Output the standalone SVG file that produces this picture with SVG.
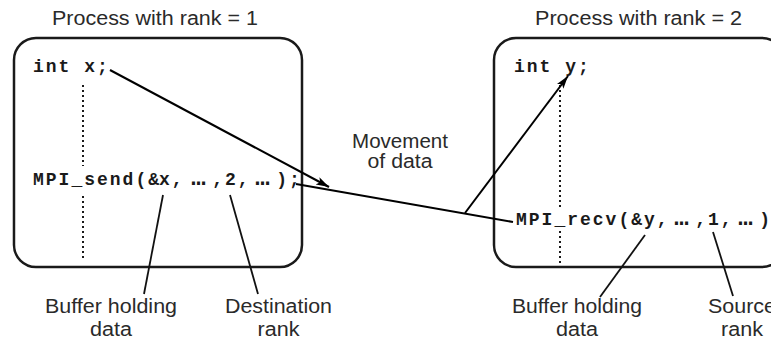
<svg xmlns="http://www.w3.org/2000/svg" width="771" height="339" viewBox="0 0 771 339">
  <style>
    .box { fill: #ffffff; stroke: #1a1a1a; stroke-width: 2.5; }
    .lbl { font-family: "Liberation Sans", Arial, sans-serif; font-size: 20px; fill: #2a2a2a; text-anchor: middle; }
    .code { font-family: "Liberation Mono", "Courier New", monospace; font-size: 18px; font-weight: bold; fill: #1a1a1a; }
    .ell { font-size: 24px; }
    .dots { stroke: #1a1a1a; stroke-width: 2; stroke-dasharray: 2 3; fill: none; }
    .wire { stroke: #000000; stroke-width: 2; fill: none; }
    .lead { stroke: #111111; stroke-width: 1.8; fill: none; }
  </style>
  <defs>
    <marker id="head" markerUnits="userSpaceOnUse" markerWidth="14" markerHeight="10" refX="13" refY="4" orient="auto">
      <path d="M0,0 L13,4 L0,8 L3,4 Z" fill="#000000"/>
    </marker>
  </defs>

  <rect width="771" height="339" fill="#ffffff"/>

  <!-- sending process -->
  <g id="process-rank-1">
    <text class="lbl" x="155" y="25" textLength="206" lengthAdjust="spacingAndGlyphs">Process with rank = 1</text>
    <rect class="box" x="14" y="38" width="288" height="229" rx="22" ry="22"/>
    <text class="code" x="33" y="72" letter-spacing="2">int x;</text>
    <text class="code" y="185" x="33 45.8 58.6 71.4 84.2 97 109.8 122.6 135.4 148.2 159 171.8 191.2 212.2 225 237.8 255.2 276.2 289">MPI_send(&amp;x,<tspan class="ell">…</tspan>,2,<tspan class="ell">…</tspan>);</text>
    <line class="dots" x1="83" y1="85" x2="83" y2="166"/>
    <line class="dots" x1="83" y1="196" x2="83" y2="259"/>
  </g>

  <!-- receiving process -->
  <g id="process-rank-2">
    <text class="lbl" x="638.5" y="25" textLength="207" lengthAdjust="spacingAndGlyphs">Process with rank = 2</text>
    <rect class="box" x="494" y="38" width="290" height="229" rx="22" ry="22"/>
    <text class="code" x="514" y="72" letter-spacing="2">int y;</text>
    <text class="code" y="225" x="516 528.8 541.6 554.4 567.2 580 592.8 605.6 618.4 631.2 644 656.8 674.2 695.2 708 720.8 738.2 759.2 772">MPI_recv(&amp;y,<tspan class="ell">…</tspan>,1,<tspan class="ell">…</tspan>);</text>
    <line class="dots" x1="560" y1="85" x2="560" y2="208"/>
    <line class="dots" x1="560" y1="231" x2="560" y2="266"/>
  </g>

  <!-- annotation texts -->
  <g id="label-movement">
    <text class="lbl" x="400" y="148" textLength="96" lengthAdjust="spacingAndGlyphs">Movement</text>
    <text class="lbl" x="400" y="168" textLength="65" lengthAdjust="spacingAndGlyphs">of data</text>
  </g>
  <g id="label-send-buffer">
    <text class="lbl" x="111" y="313" textLength="132" lengthAdjust="spacingAndGlyphs">Buffer holding</text>
    <text class="lbl" x="111" y="336" textLength="42" lengthAdjust="spacingAndGlyphs">data</text>
  </g>
  <g id="label-destination">
    <text class="lbl" x="278.5" y="313" textLength="107" lengthAdjust="spacingAndGlyphs">Destination</text>
    <text class="lbl" x="278.5" y="336" textLength="42" lengthAdjust="spacingAndGlyphs">rank</text>
  </g>
  <g id="label-recv-buffer">
    <text class="lbl" x="577" y="313" textLength="130" lengthAdjust="spacingAndGlyphs">Buffer holding</text>
    <text class="lbl" x="577" y="336" textLength="42" lengthAdjust="spacingAndGlyphs">data</text>
  </g>
  <g id="label-source">
    <text class="lbl" x="742" y="313" textLength="68" lengthAdjust="spacingAndGlyphs">Source</text>
    <text class="lbl" x="742" y="336" textLength="42" lengthAdjust="spacingAndGlyphs">rank</text>
  </g>

  <!-- connectors -->
  <g id="connectors">
    <line class="wire" x1="110" y1="70" x2="329" y2="187" marker-end="url(#head)"/>
    <line class="wire" x1="296" y1="184" x2="513" y2="222"/>
    <line class="wire" x1="465" y1="213" x2="568" y2="76" marker-end="url(#head)"/>
    <line class="lead" x1="163" y1="195" x2="144" y2="294"/>
    <line class="lead" x1="230" y1="195" x2="258" y2="294"/>
    <line class="lead" x1="645" y1="235" x2="600" y2="297"/>
    <line class="lead" x1="713" y1="232" x2="733" y2="296"/>
  </g>
</svg>
